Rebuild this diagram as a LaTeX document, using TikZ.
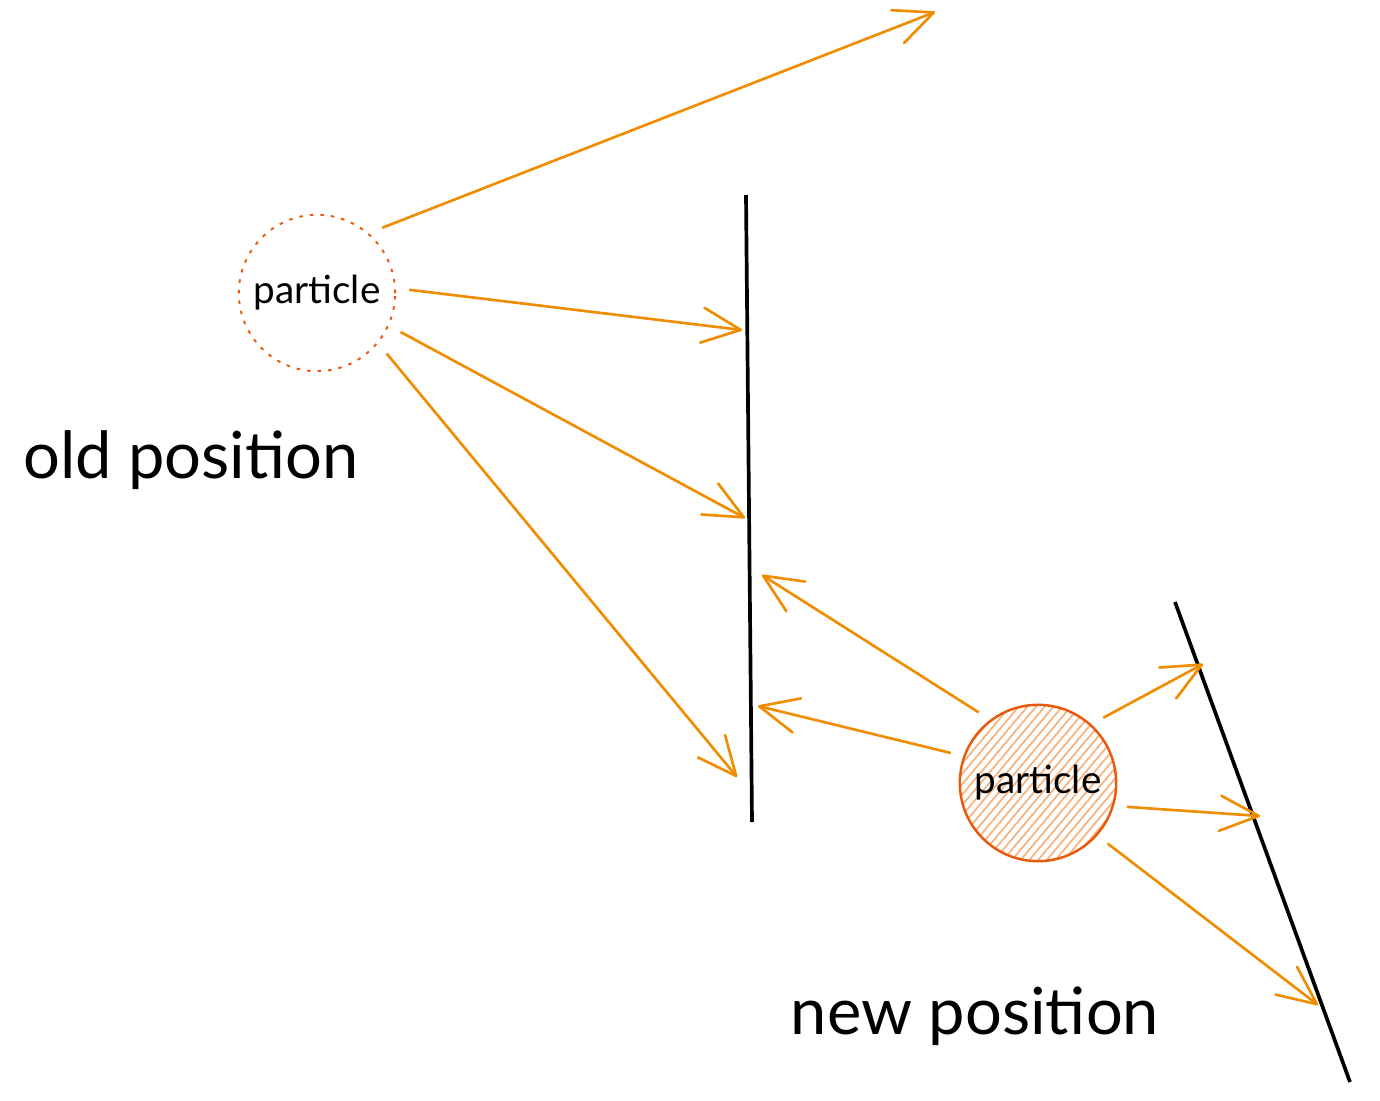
\documentclass[tikz,border=0pt]{standalone}
\usepackage{fontspec}
\setmainfont{Lato}
\usetikzlibrary{arrows.meta,patterns.meta}
\definecolor{ray}{HTML}{F08C00}
\definecolor{rim}{HTML}{E8590C}
\definecolor{hatch}{HTML}{F7B27E}

\begin{document}
\begin{tikzpicture}[x=0.02cm,y=-0.02cm]
\useasboundingbox (0,0) rectangle (1380,1100);
% particles
\begin{scope}[every node/.style={circle,minimum size=89pt,inner sep=0pt,outer sep=8pt,
		font=\fontsize{22}{25}\selectfont}]
\node[draw=rim,line width=1.1pt,dash pattern=on 2pt off 4pt] (old) at (317,293) {particle};
\node[draw=rim,line width=1.4pt,pattern={Lines[angle=50,distance=3.8pt,line width=1pt]},
	pattern color=hatch] (new) at (1038,783) {particle};
\end{scope}
% labels
\begin{scope}[every node/.style={font=\fontsize{37}{40}\selectfont}]
\node (oldlbl) at (191,460) {old position};
\node (newlbl) at (975,1016) {new position};
\end{scope}
% walls
\coordinate (wallAtop) at (746,195);
\coordinate (wallAbot) at (752,822);
\coordinate (wallBtop) at (1175,602);
\coordinate (wallBbot) at (1350,1082);
\draw[line width=2.1pt] (wallAtop) -- (wallAbot);
\draw[line width=2.1pt] (wallBtop) -- (wallBbot);
% hit points
\coordinate (far) at (935,12);
\coordinate (hitA1) at (742,330);
\coordinate (hitA2) at (745,518);
\coordinate (hitA3) at (737,777);
\coordinate (hitA4) at (762,575);
\coordinate (hitA5) at (758,706);
\coordinate (hitB1) at (1203,664);
\coordinate (hitB2) at (1260,816);
\coordinate (hitB3) at (1318,1005);
% rays
\begin{scope}[>={Straight Barb[length=22pt,width=20pt,round]},
	every edge/.style={draw=ray,line width=1.5pt}]
\path [->] (old.45) edge (far);
\path [->] (old.2) edge (hitA1);
\path [->] (old.-25) edge (hitA2);
\path [->] (old.-41) edge (hitA3);
\path [->] (new.130) edge (hitA4);
\path [->] (new.161) edge (hitA5);
\path [->] (new.45) edge (hitB1);
\path [->] (new.-15) edge (hitB2);
\path [->] (new.-41) edge (hitB3);
\end{scope}
\end{tikzpicture}
\end{document}
